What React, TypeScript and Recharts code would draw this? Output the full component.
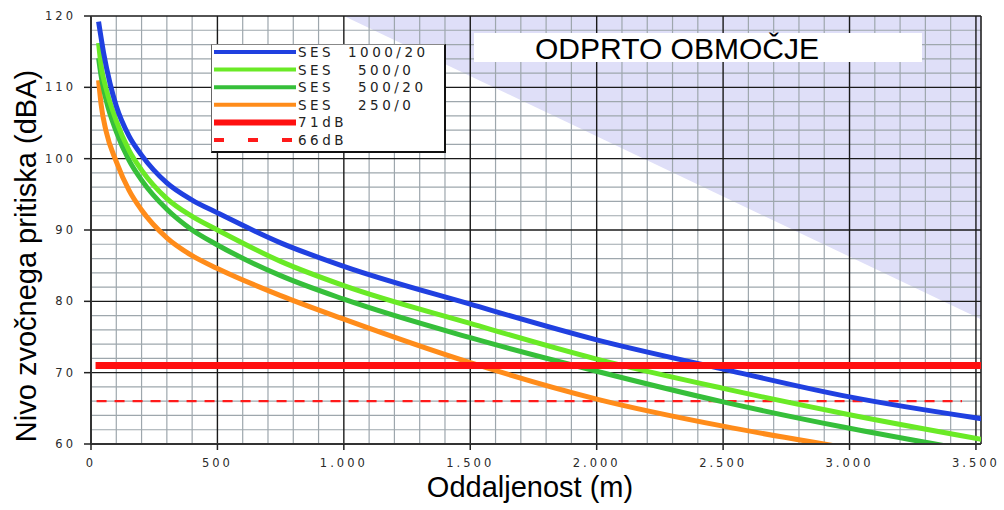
import React from 'react';
import {
  ComposedChart, Line, Area, XAxis, YAxis, ReferenceLine, Legend
} from 'recharts';

// distance (m) / level (dBA)
const SES_1000_20 = [
  { d: 30, v: 119.2 }, { d: 50, v: 114.8 }, { d: 75, v: 110.6 }, { d: 100, v: 107.4 },
  { d: 150, v: 103.2 }, { d: 200, v: 100.5 }, { d: 300, v: 96.6 }, { d: 400, v: 94.2 },
  { d: 500, v: 92.4 }, { d: 750, v: 88.2 }, { d: 1000, v: 84.9 }, { d: 1500, v: 79.6 },
  { d: 2000, v: 74.6 }, { d: 2500, v: 70.5 }, { d: 3000, v: 66.6 }, { d: 3530, v: 63.5 },
];
const SES_500_0 = [
  { d: 30, v: 116.2 }, { d: 40, v: 113 }, { d: 60, v: 109.8 }, { d: 100, v: 105.3 },
  { d: 150, v: 101.2 }, { d: 200, v: 98.4 }, { d: 300, v: 94.4 }, { d: 400, v: 91.9 },
  { d: 500, v: 90 }, { d: 750, v: 85.6 }, { d: 1000, v: 82.2 }, { d: 1500, v: 76.9 },
  { d: 2000, v: 71.9 }, { d: 2500, v: 67.8 }, { d: 3000, v: 64.1 }, { d: 3530, v: 60.6 },
];
const SES_500_20 = [
  { d: 30, v: 114.1 }, { d: 40, v: 111.6 }, { d: 60, v: 108.2 }, { d: 100, v: 103.8 },
  { d: 150, v: 99.8 }, { d: 200, v: 97 }, { d: 300, v: 92.9 }, { d: 400, v: 90 },
  { d: 500, v: 87.9 }, { d: 750, v: 83.6 }, { d: 1000, v: 80.3 }, { d: 1500, v: 74.9 },
  { d: 2000, v: 70.2 }, { d: 2500, v: 65.9 }, { d: 3000, v: 62.2 }, { d: 3400, v: 59.6 },
];
const SES_250_0 = [
  { d: 30, v: 111 }, { d: 40, v: 107.6 }, { d: 60, v: 103.8 }, { d: 100, v: 99.6 },
  { d: 150, v: 95.6 }, { d: 200, v: 92.8 }, { d: 300, v: 88.9 }, { d: 400, v: 86.4 },
  { d: 500, v: 84.6 }, { d: 750, v: 80.8 }, { d: 1000, v: 77.5 }, { d: 1500, v: 71.4 },
  { d: 2000, v: 66.3 }, { d: 2500, v: 62.5 }, { d: 2950, v: 59.7 },
];
const LIMIT_71 = [{ d: 18, v: 71 }, { d: 3530, v: 71 }];
const LIMIT_66 = [{ d: 22, v: 66 }, { d: 3445, v: 66 }];
// open area (shaded wedge, top right)
const OPEN_AREA = [{ d: 1000, v: 120 }, { d: 3520, v: 77.5 }];

const DIST_TICKS = [0, 500, 1000, 1500, 2000, 2500, 3000, 3500];
const LEVEL_TICKS = [60, 70, 80, 90, 100, 110, 120];
const DIST_MAX = 3520;

const LEGEND_ITEMS = [
  { name: 'SES', value: '1000/20', color: '#2040e0', width: 4, dash: undefined },
  { name: 'SES', value: '500/0', color: '#6aea26', width: 4, dash: undefined },
  { name: 'SES', value: '500/20', color: '#36bf3a', width: 4, dash: undefined },
  { name: 'SES', value: '250/0', color: '#ff8c1a', width: 4, dash: undefined },
  { name: '71dB', value: '', color: '#ff1010', width: 6, dash: undefined },
  { name: '66dB', value: '', color: '#ff1a1a', width: 4, dash: '10 24' },
];

const minorX: number[] = [];
for (let x = 100; x <= 3500; x += 100) if (x % 500 !== 0) minorX.push(x);
const minorY: number[] = [];
for (let y = 62; y < 120; y += 2) if (y % 10 !== 0) minorY.push(y);

const fmtDist = (v: number) =>
  v >= 1000 ? `${Math.floor(v / 1000)}.${String(v % 1000).padStart(3, '0')}` : String(v);

const tickStyle = { fontFamily: 'DejaVu Sans', fontSize: 11.5, fill: '#2a2a2a', letterSpacing: 3 };
const legendFont = { fontFamily: 'DejaVu Sans', fontSize: 13.5, fill: '#222', letterSpacing: 3.5 };

const LegendBox = () => (
  <div style={{
    width: 235, height: 109, boxSizing: 'border-box', background: '#fff',
    borderLeft: '1px solid #666', borderTop: '1px solid #888',
    borderRight: '2px solid #111', borderBottom: '2px solid #111',
  }}>
    <svg width={232} height={106} style={{ display: 'block' }}>
      {LEGEND_ITEMS.map((it, i) => {
        const y = 7 + i * 17.6;
        const head = it.value.split('/')[0].length;
        return (
          <g key={it.name + it.value}>
            <line x1={2} x2={84} y1={y} y2={y} stroke={it.color} strokeWidth={it.width}
              strokeDasharray={it.dash} />
            <text x={86} y={y + 5} {...legendFont}>{it.name}</text>
            {it.value && (
              <text x={146 - 10 * (head - 3)} y={y + 5} {...legendFont}>{it.value}</text>
            )}
          </g>
        );
      })}
    </svg>
  </div>
);

export default function App() {
  return (
    <div style={{ position: 'absolute', left: 0, top: 0, width: 1004, height: 510, background: '#fff' }}>
      <ComposedChart width={1004} height={510} margin={{ top: 16, right: 23, bottom: 0, left: 0 }}>
        <XAxis type="number" dataKey="d" domain={[0, DIST_MAX]} ticks={DIST_TICKS} allowDataOverflow
          height={66} tickSize={6} tickMargin={9} tickFormatter={fmtDist} tick={tickStyle}
          axisLine={{ stroke: '#333', strokeWidth: 2 }} tickLine={{ stroke: '#222', strokeWidth: 1.5 }} />
        <YAxis type="number" dataKey="v" domain={[60, 120]} ticks={LEVEL_TICKS} allowDataOverflow
          width={91} tickSize={7} tickMargin={8} tick={tickStyle}
          axisLine={{ stroke: '#333', strokeWidth: 2 }} tickLine={{ stroke: '#222', strokeWidth: 1.5 }} />

        <Area data={OPEN_AREA} dataKey="v" type="linear" baseValue={120} fill="#dfdff8" fillOpacity={1}
          stroke="none" isAnimationActive={false} zIndex={-200} />

        {minorX.map(x => (
          <ReferenceLine key={`mx${x}`} x={x} stroke="#9ea7ad" strokeWidth={1.2} zIndex={-100} />
        ))}
        {minorY.map(y => (
          <ReferenceLine key={`my${y}`} y={y} stroke="#9ea7ad" strokeWidth={1.2} zIndex={-100} />
        ))}
        {DIST_TICKS.slice(1).map(x => (
          <ReferenceLine key={`Mx${x}`} x={x} stroke="#1a1a1a" strokeWidth={1.4} zIndex={-90} />
        ))}
        {LEVEL_TICKS.slice(1).map(y => (
          <ReferenceLine key={`My${y}`} y={y} stroke="#1a1a1a" strokeWidth={1.4} zIndex={-90} />
        ))}
        <ReferenceLine x={DIST_MAX} stroke="#222" strokeWidth={1.6} zIndex={-90} />

        <Line data={LIMIT_66} dataKey="v" type="linear" stroke="#ff1a1a" strokeWidth={2.2}
          strokeDasharray="10 8" dot={false} isAnimationActive={false} />
        <Line data={SES_250_0} dataKey="v" type="monotone" stroke="#ff8c1a" strokeWidth={5}
          dot={false} isAnimationActive={false} />
        <Line data={SES_500_20} dataKey="v" type="monotone" stroke="#36bf3a" strokeWidth={5}
          dot={false} isAnimationActive={false} />
        <Line data={SES_500_0} dataKey="v" type="monotone" stroke="#6aea26" strokeWidth={5}
          dot={false} isAnimationActive={false} />
        <Line data={SES_1000_20} dataKey="v" type="monotone" stroke="#2040e0" strokeWidth={5}
          dot={false} isAnimationActive={false} />
        <Line data={LIMIT_71} dataKey="v" type="linear" stroke="#ff1010" strokeWidth={7}
          dot={false} isAnimationActive={false} />

        <Legend layout="vertical" align="center" verticalAlign="middle" content={<LegendBox />}
          wrapperStyle={{ left: 211, top: 44, width: 235, height: 109 }} />
      </ComposedChart>

      <svg width={1004} height={510} style={{ position: 'absolute', left: 0, top: 0, pointerEvents: 'none' }}>
        <rect x={474} y={33} width={448} height={29} fill="#fff" />
        <text x={677} y={59} textAnchor="middle" fontFamily="Liberation Sans" fontSize={30} fill="#000">
          ODPRTO OBMOČJE
        </text>
        <text x={36} y={256} transform="rotate(-90 36 256)" textAnchor="middle"
          fontFamily="Liberation Sans" fontSize={29} fill="#000">Nivo zvočnega pritiska (dBA)</text>
        <text x={530} y={497} textAnchor="middle" fontFamily="Liberation Sans" fontSize={29}
          fill="#000">Oddaljenost (m)</text>
      </svg>
    </div>
  );
}
